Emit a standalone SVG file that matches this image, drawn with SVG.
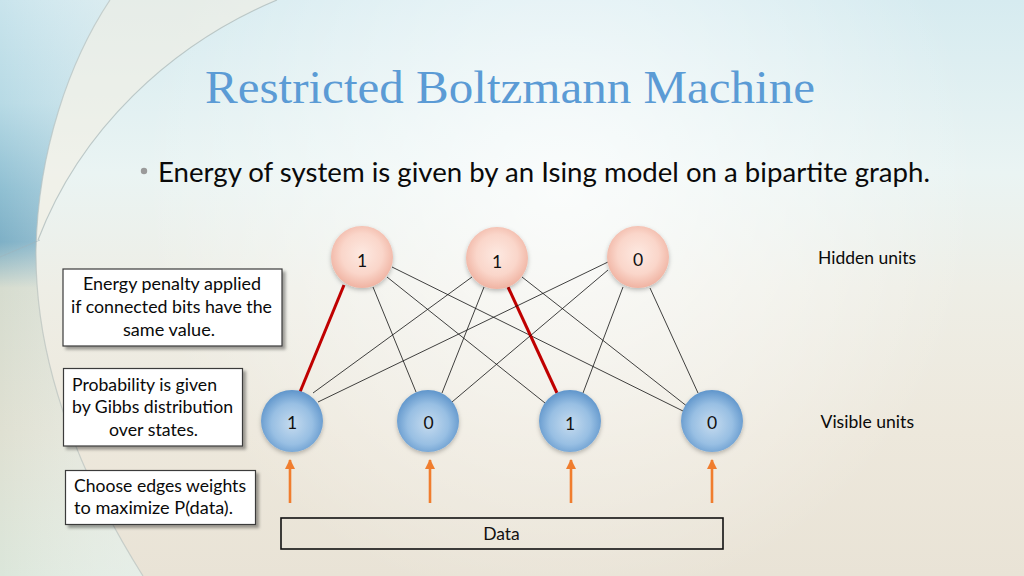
<svg xmlns="http://www.w3.org/2000/svg" width="1024" height="576" viewBox="0 0 1024 576">
<defs>
<linearGradient id="bg" x1="0" y1="0" x2="0" y2="1">
<stop offset="0" stop-color="#d6ebf0"/>
<stop offset="0.3" stop-color="#eaf4f3"/>
<stop offset="0.5" stop-color="#eeeee6"/>
<stop offset="0.75" stop-color="#ede8dc"/>
<stop offset="1" stop-color="#e9e3d6"/>
</linearGradient>
<radialGradient id="glow" cx="560" cy="190" r="420" gradientUnits="userSpaceOnUse">
<stop offset="0" stop-color="#ffffff" stop-opacity="0.75"/>
<stop offset="0.6" stop-color="#ffffff" stop-opacity="0.3"/>
<stop offset="1" stop-color="#ffffff" stop-opacity="0"/>
</radialGradient>
<linearGradient id="leftg" x1="0" y1="0" x2="0" y2="1">
<stop offset="0" stop-color="#c9e4ec"/>
<stop offset="0.18" stop-color="#b7dae5"/>
<stop offset="0.33" stop-color="#8fbfd2"/>
<stop offset="0.42" stop-color="#7eb0c6"/>
<stop offset="0.5" stop-color="#d6dccf"/>
<stop offset="0.75" stop-color="#dfe0d2"/>
<stop offset="1" stop-color="#dbe6da"/>
</linearGradient>
<linearGradient id="leftfade" x1="0" y1="0" x2="1" y2="0">
<stop offset="0" stop-color="#ffffff" stop-opacity="0"/>
<stop offset="1" stop-color="#eef4f2" stop-opacity="0.55"/>
</linearGradient>
<radialGradient id="hid" cx="0.5" cy="0.45" r="0.55">
<stop offset="0" stop-color="#fde9e1"/>
<stop offset="0.6" stop-color="#fad6ca"/>
<stop offset="1" stop-color="#f0b3a2"/>
</radialGradient>
<radialGradient id="vis" cx="0.5" cy="0.55" r="0.55">
<stop offset="0" stop-color="#c5dbef"/>
<stop offset="0.6" stop-color="#98bfe3"/>
<stop offset="1" stop-color="#5f95cb"/>
</radialGradient>
<filter id="boxsh" x="-10%" y="-10%" width="125%" height="130%">
<feDropShadow dx="3" dy="3" stdDeviation="1.5" flood-color="#000" flood-opacity="0.35"/>
</filter>
<filter id="nodesh" x="-30%" y="-30%" width="160%" height="170%">
<feDropShadow dx="0" dy="2" stdDeviation="2" flood-color="#000" flood-opacity="0.25"/>
</filter>
<marker id="ah" viewBox="0 0 10 10" refX="9" refY="5" markerWidth="4" markerHeight="4" orient="auto" markerUnits="strokeWidth">
<path d="M0,0 L10,5 L0,10 Z" fill="#f07d2e"/>
</marker>
<style>
.box{fill:#ffffff;stroke:#3a3a3a;stroke-width:1.2;filter:url(#boxsh)}
.t{font-family:Lato,"Liberation Sans",sans-serif;font-size:16.5px;fill:#0a0a0a}
.n{font-family:Lato,"Liberation Sans",sans-serif;font-size:17.5px;fill:#111;text-anchor:middle}
.e{stroke:#111;stroke-width:0.8;fill:none}
.r{stroke:#c00000;stroke-width:3;fill:none}
.a{stroke:#f07d2e;stroke-width:2.6;fill:none;marker-end:url(#ah)}
.hn{fill:url(#hid);filter:url(#nodesh)}
.vn{fill:url(#vis);filter:url(#nodesh)}
</style>
</defs>

<!-- background -->
<rect width="1024" height="576" fill="url(#bg)"/>
<rect width="1024" height="576" fill="url(#glow)"/>
<path d="M0,0 L110,0 C70,60 38,150 36,250 C35,350 70,460 143,576 L0,576 Z" fill="url(#leftg)"/>
<path d="M0,0 L110,0 C70,60 38,150 36,250 C35,350 70,460 143,576 L0,576 Z" fill="url(#leftfade)"/>
<path d="M110,0 L277,0 C170,45 80,130 38,240 C40,150 70,60 110,0 Z" fill="#f4efe2" opacity="0.55"/>
<path d="M110,0 C70,60 38,150 36,250 C35,350 70,460 143,576" fill="none" stroke="#b9c2bf" stroke-width="1.2" opacity="0.7"/>
<path d="M277,0 C170,45 80,130 38,240" fill="none" stroke="#aab7b6" stroke-width="1.2" opacity="0.7"/>
<path d="M0,257 L40,240" fill="none" stroke="#9fb4bd" stroke-width="1" opacity="0.6"/>

<!-- title -->
<text x="205" y="103" font-family="'Liberation Serif',serif" font-size="47" fill="#5b9bd5" textLength="610" lengthAdjust="spacingAndGlyphs">Restricted Boltzmann Machine</text>
<circle cx="144" cy="171" r="3.2" fill="#9a9a9a"/>
<text x="158" y="181.5" font-family="Lato,'Liberation Sans',sans-serif" font-size="27" fill="#0a0a0a" textLength="772" lengthAdjust="spacingAndGlyphs">Energy of system is given by an Ising model on a bipartite graph.</text>

<!-- connectors -->
<g id="connectors">
<line class="r" x1="344" y1="285" x2="300" y2="392"/>
<line class="e" x1="373" y1="287" x2="416" y2="392"/>
<line class="e" x1="387" y1="277" x2="545" y2="403"/>
<line class="e" x1="392" y1="267" x2="685" y2="412"/>
<line class="e" x1="472" y1="277" x2="313" y2="393"/>
<line class="e" x1="484" y1="287" x2="442" y2="393"/>
<line class="r" x1="508" y1="287" x2="557" y2="393"/>
<line class="e" x1="522" y1="277" x2="688" y2="407"/>
<line class="e" x1="608" y1="262" x2="318" y2="402"/>
<line class="e" x1="608" y1="270" x2="452" y2="402"/>
<line class="e" x1="623" y1="287" x2="583" y2="393"/>
<line class="e" x1="650" y1="288" x2="698" y2="393"/>
<line class="a" x1="290" y1="503" x2="290" y2="460"/>
<line class="a" x1="430" y1="503" x2="430" y2="460"/>
<line class="a" x1="571" y1="503" x2="571" y2="460"/>
<line class="a" x1="712" y1="503" x2="712" y2="460"/>
</g>

<!-- hidden nodes -->
<g id="h1"><circle class="hn" cx="362" cy="257" r="31"/><text class="n" x="362" y="266.5">1</text></g>
<g id="h2"><circle class="hn" cx="497" cy="258" r="31"/><text class="n" x="497" y="267.5">1</text></g>
<g id="h3"><circle class="hn" cx="638" cy="257" r="31"/><text class="n" x="638" y="266">0</text></g>

<!-- visible nodes -->
<g id="v1"><circle class="vn" cx="292" cy="421" r="31"/><text class="n" x="292" y="429">1</text></g>
<g id="v2"><circle class="vn" cx="428" cy="421" r="31"/><text class="n" x="428.5" y="428.5">0</text></g>
<g id="v3"><circle class="vn" cx="570" cy="421" r="31"/><text class="n" x="570" y="429.5">1</text></g>
<g id="v4"><circle class="vn" cx="712" cy="421" r="31"/><text class="n" x="712" y="428.5">0</text></g>

<!-- labels -->
<g id="hidden-label"><text class="t" x="818" y="263.5" textLength="98" lengthAdjust="spacingAndGlyphs">Hidden units</text></g>
<g id="visible-label"><text class="t" x="820.5" y="428.3" textLength="93.5" lengthAdjust="spacingAndGlyphs">Visible units</text></g>

<!-- note boxes -->
<g id="note-energy">
<rect class="box" x="63" y="269" width="219" height="77"/>
<text class="t" x="83" y="290" textLength="178" lengthAdjust="spacingAndGlyphs">Energy penalty applied</text>
<text class="t" x="71" y="313" textLength="201" lengthAdjust="spacingAndGlyphs">if connected bits have the</text>
<text class="t" x="123" y="335.5" textLength="92" lengthAdjust="spacingAndGlyphs">same value.</text>
</g>
<g id="note-prob">
<rect class="box" x="63.5" y="368.5" width="179" height="77.5"/>
<text class="t" x="72" y="391" textLength="145" lengthAdjust="spacingAndGlyphs">Probability is given</text>
<text class="t" x="72" y="413" textLength="161" lengthAdjust="spacingAndGlyphs">by Gibbs distribution</text>
<text class="t" x="109" y="435.5" textLength="89" lengthAdjust="spacingAndGlyphs">over states.</text>
</g>
<g id="note-choose">
<rect class="box" x="65.5" y="470.5" width="190" height="54"/>
<text class="t" x="74" y="492" textLength="172" lengthAdjust="spacingAndGlyphs">Choose edges weights</text>
<text class="t" x="74" y="514" textLength="159" lengthAdjust="spacingAndGlyphs">to maximize P(data).</text>
</g>

<!-- data box -->
<g id="data">
<rect x="281" y="518" width="442" height="31" fill="none" stroke="#111" stroke-width="1.6"/>
<text class="n" x="501.5" y="539.5">Data</text>
</g>
</svg>
